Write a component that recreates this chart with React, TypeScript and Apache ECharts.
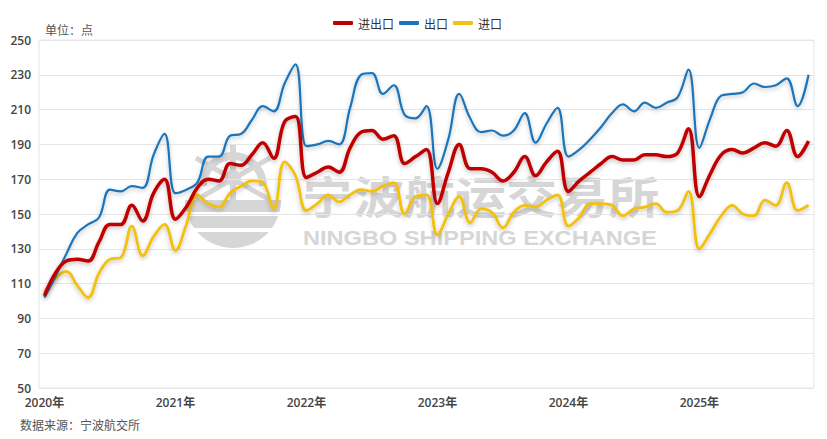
import React, { useEffect, useRef } from "react";
import * as echarts from "echarts";

// monthly index, Jan 2020 .. Nov 2025
const months: string[] = [];
for (let y = 2020; y <= 2025; y++) {
  for (let m = 1; m <= 12; m++) {
    if (y === 2025 && m > 11) break;
    months.push(`${y}-${String(m).padStart(2, "0")}`);
  }
}

const seriesNames = ["进出口", "出口", "进口"];

const totalIndex = [
  103, 116, 123, 124, 123, 134, 144, 144, 155, 146, 162, 170,
  147, 154, 165, 170, 169, 179, 178, 184, 191, 182, 203, 206,
  171, 174, 177, 174, 188, 197, 198, 193, 195, 179, 183, 187,
  156, 174, 190, 176, 176, 174, 169, 174, 183, 172, 180, 186,
  163, 169, 174, 179, 183, 181, 181, 184, 184, 183, 185, 199,
  160, 173, 184, 187, 185, 188, 191, 189, 198, 183, 192,
];

const exportIndex = [
  102, 114, 127, 139, 144, 148, 164, 163, 166, 165, 184, 196,
  162, 164, 168, 183, 183, 195, 196, 204, 212, 209, 225, 236,
  189, 190, 192, 190, 211, 230, 231, 219, 224, 207, 205, 212,
  176, 193, 219, 205, 197, 198, 195, 198, 208, 191, 202, 211,
  183, 187, 193, 200, 208, 213, 209, 214, 211, 214, 217, 233,
  188, 205, 218, 219, 220, 225, 223, 224, 228, 212, 230,
];

const importIndex = [
  105, 113, 117, 109, 102, 116, 124, 125, 143, 126, 137, 144,
  129, 144, 161, 156, 154, 162, 166, 169, 168, 153, 180, 172,
  152, 156, 161, 157, 161, 164, 163, 166, 168, 150, 160, 161,
  138, 150, 160, 145, 153, 151, 142, 151, 155, 154, 158, 161,
  143, 148, 156, 156, 155, 149, 153, 154, 156, 151, 152, 163,
  130, 139, 149, 155, 150, 149, 158, 155, 168, 152, 155,
];

const colors = ["#c00000", "#1a75bb", "#f2c010"];
const widths = [3.5, 2.2, 2.8];

const font = "'Open Sans', 'Noto Sans CJK SC', sans-serif";
const cjk = "'Noto Sans CJK SC', sans-serif";

export default function App() {
  const ref = useRef<HTMLDivElement>(null);

  useEffect(() => {
    if (!ref.current) return;
    const chart = echarts.init(ref.current, undefined, { renderer: "svg" });

    const data = [totalIndex, exportIndex, importIndex];
    const wm = "#d6d6d6";

    chart.setOption({
      animation: false,
      grid: {
        left: 39,
        right: 13,
        top: 40,
        bottom: 51,
        show: true,
        borderColor: "#e6e6e6",
        borderWidth: 1,
      },
      legend: {
        top: 12,
        left: 328,
        itemWidth: 20,
        itemHeight: 4,
        itemGap: 5,
        icon: "roundRect",
        textStyle: { fontFamily: cjk, fontSize: 12, color: "#333" },
        data: seriesNames,
      },
      graphic: [
        // watermark logo
        {
          type: "group",
          z: -10,
          children: [
            {
              type: "sector",
              shape: { cx: 233, cy: 200, r: 48, r0: 0, startAngle: 0, endAngle: Math.PI },
              style: { fill: wm },
            },
            { type: "rect", shape: { x: 180, y: 212, width: 110, height: 4 }, style: { fill: "#fff" } },
            { type: "rect", shape: { x: 180, y: 228, width: 110, height: 4 }, style: { fill: "#fff" } },
            {
              type: "arc",
              shape: { cx: 233, cy: 186, r: 30, startAngle: Math.PI, endAngle: Math.PI * 2 },
              style: { stroke: wm, lineWidth: 8, fill: "none" },
            },
            { type: "line", shape: { x1: 233, y1: 145, x2: 233, y2: 200 }, style: { stroke: wm, lineWidth: 6 } },
            { type: "line", shape: { x1: 196, y1: 158, x2: 270, y2: 200 }, style: { stroke: wm, lineWidth: 5 } },
            { type: "line", shape: { x1: 270, y1: 158, x2: 196, y2: 200 }, style: { stroke: wm, lineWidth: 5 } },
            { type: "circle", shape: { cx: 233, cy: 178, r: 8 }, style: { fill: wm } },
          ],
        },
        {
          type: "text",
          z: -10,
          x: 302,
          y: 195,
          scaleX: 1.16,
          style: {
            text: "宁波航运交易所",
            font: `bold 44px ${cjk}`,
            fill: wm,
            verticalAlign: "middle",
          },
        },
        {
          type: "text",
          z: -10,
          x: 303,
          y: 238,
          scaleX: 1.18,
          style: {
            text: "NINGBO SHIPPING EXCHANGE",
            font: `bold 20px 'Liberation Sans', Arial, sans-serif`,
            fill: wm,
            verticalAlign: "middle",
          },
        },
        {
          type: "text",
          x: 45,
          y: 29,
          style: { text: "单位：点", font: `12px ${cjk}`, fill: "#555", verticalAlign: "middle" },
        },
        {
          type: "text",
          x: 20,
          y: 424,
          style: { text: "数据来源：宁波航交所", font: `12px ${cjk}`, fill: "#555", verticalAlign: "middle" },
        },
      ],
      xAxis: {
        type: "category",
        data: months,
        boundaryGap: true,
        axisLine: { show: false },
        axisTick: { show: false },
        axisLabel: {
          interval: 11,
          margin: 8,
          color: "#444",
          fontSize: 12,
          fontWeight: 600,
          fontFamily: font,
          formatter: (v: string) => `${v.slice(0, 4)}年`,
        },
        splitLine: { show: false },
      },
      yAxis: {
        type: "value",
        min: 50,
        max: 250,
        interval: 20,
        axisLine: { show: false },
        axisTick: { show: false },
        axisLabel: {
          margin: 8,
          color: "#444",
          fontSize: 12,
          fontWeight: 600,
          fontFamily: font,
        },
        splitLine: { lineStyle: { color: "#e6e6e6" } },
      },
      series: seriesNames.map((name, k) => ({
        name,
        type: "line",
        data: data[k],
        smooth: 0.4,
        symbol: "none",
        z: 3 + (2 - k),
        lineStyle: {
          width: widths[k],
          color: colors[k],
          shadowColor: "rgba(0,0,0,0.25)",
          shadowBlur: 4,
          shadowOffsetY: 2,
        },
        itemStyle: { color: colors[k] },
      })),
    });

    return () => chart.dispose();
  }, []);

  return (
    <div
      ref={ref}
      style={{ position: "absolute", left: 0, top: 0, width: 827, height: 439 }}
    />
  );
}
